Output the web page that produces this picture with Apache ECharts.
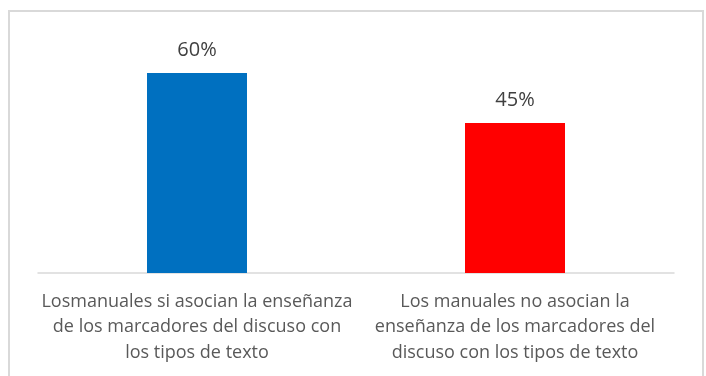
<!DOCTYPE html>
<html>
<head>
<meta charset="utf-8">
<script src="https://cdn.jsdelivr.net/npm/echarts@6/dist/echarts.min.js"></script>
<style>html,body{margin:0;padding:0;background:#fff}#c{width:706px;height:376px}</style>
</head>
<body>
<div id="c"></div>
<script>
var categories = [
  "Losmanuales si asocian la enseñanza\nde los marcadores del discuso con\nlos tipos de texto",
  "Los manuales no asocian la\nenseñanza de los marcadores del\ndiscuso con los tipos de texto"
];
var values = [0.60, 0.45];
var colors = ["#0070C0", "#FF0000"];

var chart = echarts.init(document.getElementById('c'));
chart.setOption({
  animation: false,
  graphic: [{
    type: 'rect', silent: true,
    shape: { x: 9, y: 11, width: 694, height: 380 },
    style: { fill: 'none', stroke: '#d9d9d9', lineWidth: 2 }
  }],
  grid: { left: 38, right: 32, top: 73, bottom: 103 },
  xAxis: {
    type: 'category',
    data: categories,
    axisLine: { lineStyle: { color: '#d9d9d9', width: 1.5 } },
    axisTick: { show: false },
    axisLabel: {
      interval: 0, margin: 16, color: '#595959',
      fontFamily: 'Open Sans', fontSize: 18, lineHeight: 25.5
    }
  },
  yAxis: { type: 'value', min: 0, max: 0.6, show: false, splitLine: { show: false } },
  series: [{
    type: 'bar',
    barWidth: 100,
    data: values.map(function (v, i) { return { value: v, itemStyle: { color: colors[i] } }; }),
    label: {
      show: true, position: 'top', distance: 13, color: '#404040',
      fontFamily: 'Open Sans', fontSize: 20,
      formatter: function (p) { return Math.round(p.value * 100) + '%'; }
    }
  }]
});
</script>
</body>
</html>
